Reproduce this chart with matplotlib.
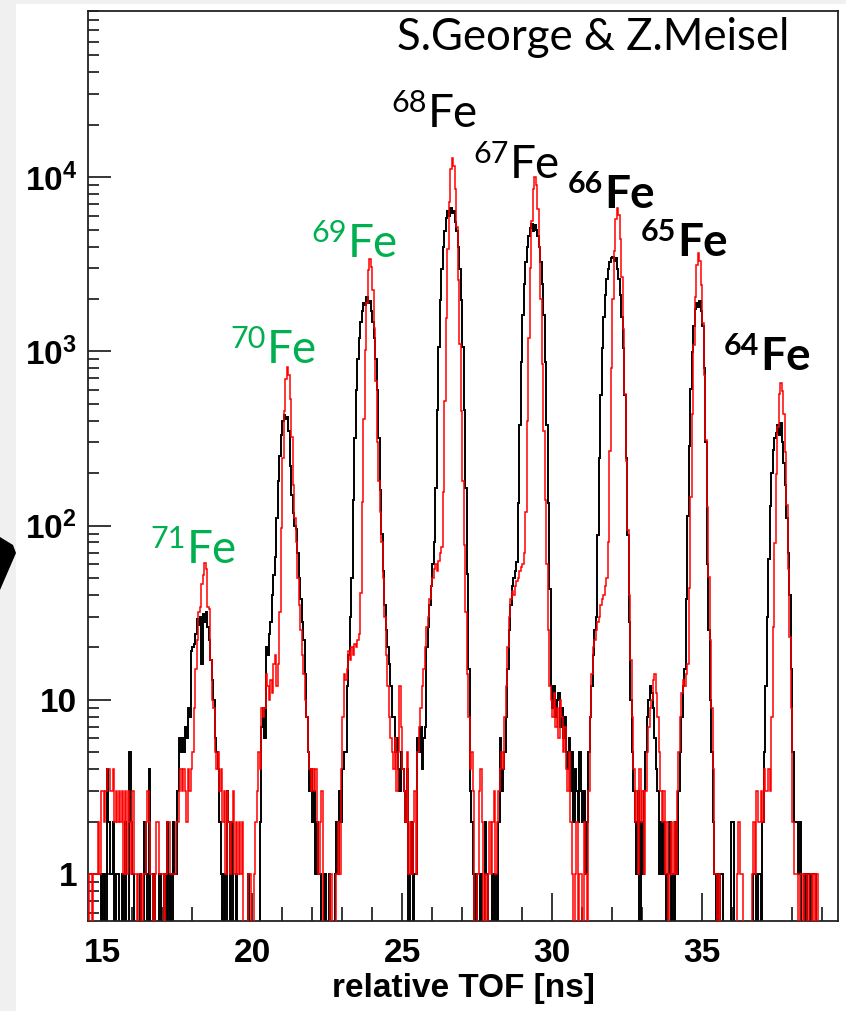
import numpy as np
import matplotlib
matplotlib.use("Agg")
import matplotlib.pyplot as plt
from matplotlib.ticker import FixedLocator, FixedFormatter, MultipleLocator, LogLocator, NullFormatter
from matplotlib.patches import Rectangle, Polygon

# ---------------- data ----------------
# histogram bins: 0.05 ns wide, first bin starts at 14.5 ns; one row = 1 ns (20 bins)
tof_start = 14.5
bin_width = 0.05

red_rows = [
    [0,1,1,0,1,1,1,2,1,3,3,2,3,4,4,3,3,4,2,3],                                  # 14.5
    [2,3,2,3,1,3,1,3,2,1,3,1,1,0,1,1,0,1,1,2],                                  # 15.5
    [3,2,1,1,0,1,2,2,1,1,1,0,1,2,2,1,1,1,1,2],                                  # 16.5
    [2,3,4,3,4,3,2,4,3,4,5,9,15,22,32,34,46,52,61,56],                          # 17.5
    [34,33,17,10,9,5,4,5,3,4,2,3,1,3,2,1,2,3,1,2],                              # 18.5
    [1,2,1,2,0,0,0,1,1,0,0,1,2,3,5,4,9,8,9,14],                                 # 19.5
    [12,10,13,11,16,18,12,16,32,97,243,454,697,810,729,535,324,170,110,80],     # 20.5
    [50,35,25,18,14,10,8,5,4,3,4,3,4,2,1,2,3,0,0,0],                            # 21.5
    [0,0,1,0,0,0,1,2,1,4,8,14,13,15,19,17,20,18,21,20],                         # 22.5
    [22,24,41,136,408,1020,1904,2924,3400,3060,2244,1360,680,300,180,120,80,50,30,18],  # 23.5
    [12,8,6,5,4,6,3,5,12,7,4,3,2,5,1,2,1,2,3,1],                                # 24.5
    [5,7,9,12,15,20,26,30,38,45,50,56,60,55,63,70,75,155,516,1548],             # 25.5
    [3870,7224,11094,12900,11610,8514,5160,2580,1097,452,181,77,32,14,8,4,5,3,0,0],     # 26.5
    [1,3,4,2,0,1,0,1,2,1,2,3,1,2,3,4,5,4,8,12],                                 # 27.5
    [20,30,38,42,40,45,48,50,55,58,60,70,120,400,1200,3000,5600,8600,10000,9000],       # 28.5
    [6600,4000,2000,850,350,140,60,25,12,10,8,11,7,9,6,10,8,5,7,4],             # 29.5
    [3,5,2,1,0,1,2,0,1,1,0,2,1,0,3,8,14,20,22,25],                              # 30.5
    [28,30,35,38,40,45,50,80,268,804,2010,3752,5762,6700,6030,4422,2680,1340,570,235],  # 31.5
    [94,40,17,8,4,2,3,1,4,2,3,1,3,5,7,9,10,13,14,11],                           # 32.5
    [8,5,3,2,3,1,2,0,1,2,1,2,1,3,5,8,11,13,12,14],                              # 33.5
    [16,44,146,438,1095,2044,3139,3650,3285,2409,1460,730,310,128,51,22,9,4,1,1],       # 34.5
    [0,1,0,0,0,0,0,0,0,0,0,0,0,1,2,1,1,0,0,0],                                  # 35.5
    [0,0,0,1,2,1,3,2,2,3,2,4,3,3,4,3,8,26,79,198],                              # 36.5
    [370,568,660,594,436,264,132,56,23,9,2,1,1,1,0,1,1,0,1,1],                  # 37.5
    [0,1,1,0,1,0,1,0,0,0,0,0,0,0,0,0,0,0,0,0],                                  # 38.5
]

black_rows = [
    [0,0,0,0,0,0,0,0,0,1,0,1,0,4,2,1,1,2,0,1],                                  # 14.5
    [1,0,0,1,0,2,0,0,5,2,1,0,0,0,0,1,0,0,2,1],                                  # 15.5
    [0,4,0,0,1,0,0,0,1,0,0,1,0,2,0,1,0,2,1,1],                                  # 16.5
    [3,6,5,6,5,7,6,9,8,19,20,21,24,29,27,30,16,31,28,32],                       # 17.5
    [26,22,17,13,10,6,5,4,2,1,0,1,0,3,2,0,2,0,0,1],                             # 18.5
    [0,0,0,0,0,0,0,1,0,0,0,0,0,0,0,2,7,9,6,20],                                 # 19.5
    [18,24,28,40,52,66,110,180,250,330,400,430,410,420,350,220,150,118,100,95], # 20.5
    [70,50,38,28,22,14,8,5,3,4,2,3,1,2,1,1,0,0,1,0],                            # 21.5
    [0,1,0,0,0,1,2,1,3,2,4,5,5,12,18,30,50,140,320,600],                        # 22.5
    [900,1200,1480,1700,1900,1850,2050,1900,1950,1700,1480,1200,900,600,320,160,90,55,35,25],  # 23.5
    [20,16,12,8,8,5,6,4,3,5,4,3,2,4,0,1,2,0,1,1],                               # 24.5
    [6,5,7,4,6,7,20,26,35,45,60,80,165,462,1056,1980,2970,3960,4884,5800],      # 25.5
    [6400,6000,6700,6200,6400,5500,4884,3960,2970,1980,1056,462,165,53,15,3,2,1,0,1],   # 26.5
    [0,0,1,0,0,2,1,0,0,0,1,0,1,0,2,6,3,4,5,8],                                  # 27.5
    [15,25,35,45,50,55,62,135,378,864,1620,2430,3240,3996,4590,5100,5400,4900,5300,5000],  # 28.5
    [4590,3996,3240,2430,1620,864,378,135,43,12,9,12,8,10,11,7,9,6,8,5],        # 29.5
    [4,6,3,5,2,4,3,2,5,3,2,3,1,2,5,8,12,18,25,30],                              # 30.5
    [88,245,560,1050,1575,2100,2590,2975,3255,3430,3500,3300,3450,2975,2590,2100,1575,1050,560,245],  # 31.5
    [88,28,10,5,3,2,1,3,0,2,1,3,5,8,10,12,11,9,6,4],                            # 32.5
    [3,1,2,1,2,1,0,1,2,0,1,0,2,1,3,5,8,12,15,38],                               # 33.5
    [114,285,608,988,1406,1750,1900,1800,1950,1700,1406,800,300,60,25,10,5,2,1,0],      # 34.5
    [1,0,1,1,0,0,0,0,0,2,2,0,0,0,0,0,0,0,0,0],                                  # 35.5
    [0,0,0,0,1,1,0,1,1,0,2,5,12,30,64,130,200,270,320,340],                     # 36.5
    [380,330,390,300,230,170,110,70,40,15,5,2,2,2,1,2,0,0,1,0],                 # 37.5
    [1,1,0,1,1,1,0,0,0,0,0,0,0,0,0,0,0,0,0,0],                                  # 38.5
]

y_tick_values = [1, 10, 100, 1000, 10000]
y_tick_labels = ["1", "10", r"$\mathbf{10^{2}}$", r"$\mathbf{10^{3}}$", r"$\mathbf{10^{4}}$"]
x_tick_values = [15, 20, 25, 30, 35]

credit_text = "S.George & Z.Meisel"
isotope_masses = ["68", "67", "66", "65", "64", "69", "70", "71"]
isotope_colors = ["black", "black", "black", "black", "black", "#00b050", "#00b050", "#00b050"]
isotope_bold = [False, False, True, True, True, False, False, False]
# label placement in figure pixels (left of "Fe", baseline)
isotope_px = [(428, 127), (510, 178), (604, 208), (677, 256), (760, 370),
              (348, 257), (267, 363), (187, 563)]

# ---------------- figure ----------------
W, H = 846, 1011
plt.rcParams["font.family"] = ["Liberation Sans", "DejaVu Sans"]
plt.rcParams["mathtext.fontset"] = "custom"
plt.rcParams["mathtext.rm"] = "Liberation Sans"
plt.rcParams["mathtext.bf"] = "Liberation Sans:bold"

fig = plt.figure(figsize=(W / 100, H / 100), dpi=100, facecolor="#f0f0f0")
fig.add_artist(Rectangle((16 / W, 0), 1 - 16 / W, 1 - 4 / H, transform=fig.transFigure,
                         facecolor="white", edgecolor="none", zorder=-5))
# black wedge at the left border
fig.add_artist(Polygon([(0, 1 - 537 / H), (13 / W, 1 - 545 / H), (16 / W, 1 - 553 / H), (0, 1 - 590 / H)],
                       closed=True, transform=fig.transFigure, facecolor="black",
                       edgecolor="none", zorder=-4))

ax = fig.add_axes([88 / W, 1 - 921 / H, (838 - 88) / W, (921 - 11) / H])

red_counts = np.concatenate([np.asarray(r, float) for r in red_rows])
black_counts = np.concatenate([np.asarray(r, float) for r in black_rows])
edges = tof_start + bin_width * np.arange(len(red_counts) + 1)

def for_log(c):
    return np.where(c > 0, c, 0.2)

ax.stairs(for_log(black_counts), edges, baseline=None, color="black", lw=1.4, zorder=2)
ax.stairs(for_log(red_counts), edges, baseline=None, color="red", lw=1.1, zorder=3)

ax.set_yscale("log")
ax.set_xlim(14.533, 39.533)
ax.set_ylim(0.537, 9.0e4)

ax.yaxis.set_major_locator(FixedLocator(y_tick_values))
ax.yaxis.set_major_formatter(FixedFormatter(y_tick_labels))
ax.yaxis.set_minor_locator(LogLocator(base=10, subs=np.arange(2, 10), numticks=20))
ax.yaxis.set_minor_formatter(NullFormatter())
ax.xaxis.set_major_locator(FixedLocator(x_tick_values))
ax.xaxis.set_minor_locator(MultipleLocator(1))

ax.tick_params(axis="y", which="major", direction="in", length=16.5, width=1.1, pad=8,
               labelsize=24, right=False)
ax.tick_params(axis="y", which="minor", direction="in", length=8, width=1.1, right=False)
ax.tick_params(axis="x", which="major", direction="in", length=20, width=1.1, pad=12,
               labelsize=24, top=False)
ax.tick_params(axis="x", which="minor", direction="in", length=10, width=1.1, top=False)
for lab in ax.get_xticklabels() + ax.get_yticklabels():
    lab.set_fontweight("bold")

for s in ax.spines.values():
    s.set_linewidth(1.3)
    s.set_color("#222222")

ax.set_xlabel("relative TOF [ns]", fontsize=24, fontweight="bold", labelpad=3)

# annotations
fig.text(397 / W, 1 - 50 / H, credit_text, fontsize=31.5, family="Lato",
         ha="left", va="baseline", color="black")
for mass, col, bold, (px, py) in zip(isotope_masses, isotope_colors, isotope_bold, isotope_px):
    wt = "bold" if bold else "normal"
    fig.text(px / W, 1 - py / H, "Fe", fontsize=33, family="Lato", fontweight=wt,
             color=col, ha="left", va="baseline")
    fig.text((px - 1) / W, 1 - (py - 15) / H, mass, fontsize=22, family="Lato",
             fontweight=wt, color=col, ha="right", va="baseline")

fig.savefig("out.png", dpi=100, facecolor=fig.get_facecolor())
